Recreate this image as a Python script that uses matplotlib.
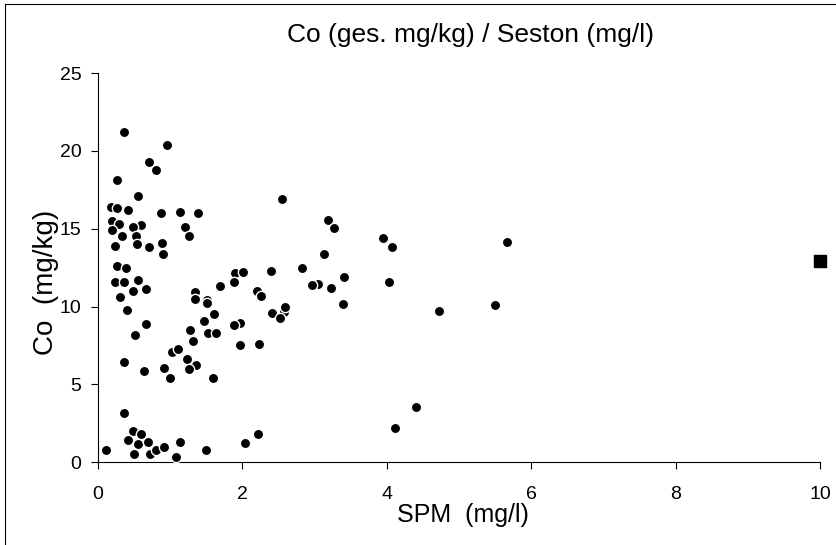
import matplotlib
matplotlib.use("Agg")
import matplotlib.pyplot as plt
from matplotlib.lines import Line2D

plt.rcParams["font.family"] = ["Liberation Sans", "DejaVu Sans"]

# SPM (mg/l) and Co (mg/kg)
spm = [0.36, 0.96, 0.71, 0.81, 0.27, 0.56, 2.55, 0.18, 0.27, 0.42,
       0.88, 1.14, 1.38, 0.20, 0.29, 0.60, 0.49, 0.20, 0.34, 0.53,
       1.21, 1.26, 0.23, 0.54, 0.71, 0.89, 0.90, 0.26, 0.39, 0.23,
       0.36, 0.56, 0.66, 0.49, 0.31, 1.90, 2.01, 1.88, 1.69, 2.40,
       2.20, 2.26, 1.34, 1.34, 1.51, 1.51, 0.40, 1.60, 0.66, 1.47,
       0.51, 1.27, 1.31, 1.53, 1.64, 1.96, 1.88, 1.97, 2.23, 2.41,
       2.58, 2.52, 2.59, 1.02, 1.11, 1.24, 1.36, 1.26, 0.36, 0.64,
       0.92, 1.00, 1.59, 0.36, 0.49, 0.42, 0.55, 0.69, 0.60, 0.50,
       0.72, 0.81, 0.92, 1.14, 1.08, 1.50, 0.11, 2.04, 2.21, 3.19,
       3.27, 3.94, 4.07, 5.67, 3.13, 2.82, 3.04, 2.96, 3.22, 3.41,
       3.39, 4.03, 4.72, 5.50, 4.40, 4.11]
co = [21.2, 20.4, 19.3, 18.8, 18.1, 17.1, 16.9, 16.4, 16.3, 16.2,
      16.0, 16.07, 16.0, 15.5, 15.3, 15.25, 15.1, 14.9, 14.5, 14.56,
      15.1, 14.5, 13.9, 14.0, 13.8, 14.1, 13.4, 12.6, 12.45, 11.6,
      11.6, 11.7, 11.1, 11.0, 10.6, 12.15, 12.2, 11.6, 11.3, 12.25,
      11.0, 10.7, 10.9, 10.5, 10.4, 10.25, 9.75, 9.5, 8.9, 9.08,
      8.2, 8.5, 7.8, 8.3, 8.3, 8.95, 8.8, 7.52, 7.6, 9.6,
      9.64, 9.25, 10.0, 7.1, 7.24, 6.6, 6.23, 6.0, 6.45, 5.87,
      6.06, 5.4, 5.38, 3.17, 2.0, 1.4, 1.18, 1.27, 1.8, 0.55,
      0.5, 0.77, 0.96, 1.27, 0.34, 0.75, 0.79, 1.2, 1.8, 15.57,
      15.06, 14.37, 13.8, 14.14, 13.35, 12.5, 11.46, 11.4, 11.18, 11.87,
      10.17, 11.55, 9.72, 10.07, 3.56, 2.2]

# single square marker at the right edge
spm_sq = [10.0]
co_sq = [12.9]

fig = plt.figure(figsize=(8.37, 5.45), dpi=100)
ax = fig.add_axes([0.117, 0.152, 0.863, 0.714])

ax.scatter(spm, co, s=55, c="black", edgecolors="white", linewidths=1.0,
           zorder=3, clip_on=False)
ax.scatter(spm_sq, co_sq, s=80, c="black", marker="s", edgecolors="black",
           zorder=3, clip_on=False)

ax.set_xlim(0, 10)
ax.set_ylim(0, 25)
ax.set_xticks([0, 2, 4, 6, 8, 10])
ax.set_yticks([0, 5, 10, 15, 20, 25])
ax.tick_params(labelsize=14, length=5, width=0.8)
ax.tick_params(axis="x", pad=12)
ax.tick_params(axis="y", pad=7)
ax.spines["top"].set_visible(False)
ax.spines["right"].set_visible(False)
ax.spines["left"].set_linewidth(0.8)
ax.spines["bottom"].set_linewidth(0.8)

xl = ax.set_xlabel("SPM  (mg/l)", fontsize=18)
xl.set_va("center")
ax.xaxis.set_label_coords(0.505, -0.136)
yl = ax.set_ylabel("Co  (mg/kg)", fontsize=20)
yl.set_va("center")
ax.yaxis.set_label_coords(-0.072, 0.463)

fig.text(0.562, 0.936, "Co (ges. mg/kg) / Seston (mg/l)", fontsize=19,
         ha="center", va="center")

# outer frame (left and top edges visible in the scan)
fig.add_artist(Line2D([0.006, 0.006], [0.0, 0.992], color="black", lw=0.8))
fig.add_artist(Line2D([0.006, 1.0], [0.992, 0.992], color="black", lw=0.8))

fig.savefig("out.png", dpi=100)
